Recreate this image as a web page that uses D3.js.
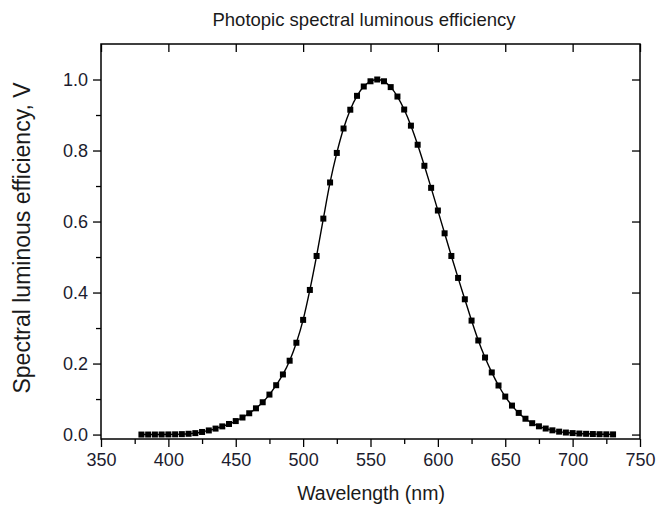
<!DOCTYPE html>
<html>
<head>
<meta charset="utf-8">
<script src="https://cdn.jsdelivr.net/npm/d3@7"></script>
<style>
  body { margin: 0; background: #fff; }
  text { font-family: "Liberation Sans", Arial, sans-serif; fill: #1a1a1a; }
</style>
</head>
<body>
<div id="chart"></div>
<script>
// photopic V(lambda) values (5 nm steps)
var wavelengths = [380, 385, 390, 395, 400, 405, 410, 415, 420, 425, 430, 435, 440, 445, 450,
  455, 460, 465, 470, 475, 480, 485, 490, 495, 500, 505, 510, 515, 520, 525, 530, 535, 540,
  545, 550, 555, 560, 565, 570, 575, 580, 585, 590, 595, 600, 605, 610, 615, 620, 625, 630,
  635, 640, 645, 650, 655, 660, 665, 670, 675, 680, 685, 690, 695, 700, 705, 710, 715, 720,
  725, 730];
var efficiency = [0.00004, 0.00006, 0.00012, 0.00022, 0.0004, 0.00064, 0.0012, 0.0022, 0.004,
  0.0073, 0.0116, 0.0168, 0.023, 0.0298, 0.038, 0.048, 0.06, 0.0739, 0.091, 0.1126, 0.139,
  0.1693, 0.208, 0.2586, 0.323, 0.4073, 0.503, 0.6082, 0.71, 0.7932, 0.862, 0.9149, 0.954,
  0.9803, 0.995, 1.0, 0.995, 0.9786, 0.952, 0.9154, 0.87, 0.8163, 0.757, 0.6949, 0.631,
  0.5668, 0.503, 0.4412, 0.381, 0.321, 0.265, 0.217, 0.175, 0.1382, 0.107, 0.0816, 0.061,
  0.0446, 0.032, 0.0232, 0.017, 0.0119, 0.0082, 0.0057, 0.0041, 0.0029, 0.0021, 0.0015,
  0.001, 0.0007, 0.0005];
var xTicks = [350, 400, 450, 500, 550, 600, 650, 700, 750];
var xMinorTicks = [375, 425, 475, 525, 575, 625, 675, 725];
var yTicks = [0.0, 0.2, 0.4, 0.6, 0.8, 1.0];
var yMinorTicks = [0.1, 0.3, 0.5, 0.7, 0.9];

var data = wavelengths.map(function(w, i) { return { w: w, v: efficiency[i] }; });

var svgWidth = 659;
var svgHeight = 505;
var margin = { top: 44, right: 19, bottom: 66, left: 101 };
var width = svgWidth - margin.left - margin.right;
var height = svgHeight - margin.top - margin.bottom;

var svg = d3.select("#chart")
  .append("svg")
  .attr("width", svgWidth)
  .attr("height", svgHeight);

var chartGroup = svg.append("g")
  .attr("transform", `translate(${margin.left}, ${margin.top})`);

var xScale = d3.scaleLinear().domain([350, 750]).range([0, width]);
var yScale = d3.scaleLinear().domain([-0.0125, 1.1]).range([height, 0]);

// bottom axis: major ticks with labels, minor ticks outside
chartGroup.append("g")
  .attr("transform", `translate(0, ${height})`)
  .call(d3.axisBottom(xScale).tickValues(xTicks).tickSize(8).tickPadding(6).tickFormat(d3.format("d")));
chartGroup.append("g")
  .attr("transform", `translate(0, ${height})`)
  .call(d3.axisBottom(xScale).tickValues(xMinorTicks).tickSize(5).tickFormat(""));

// left axis
chartGroup.append("g")
  .call(d3.axisLeft(yScale).tickValues(yTicks).tickSize(8).tickPadding(5).tickFormat(d3.format(".1f")));
chartGroup.append("g")
  .call(d3.axisLeft(yScale).tickValues(yMinorTicks).tickSize(5).tickFormat(""));

// top and right axes, ticks pointing inward
chartGroup.append("g")
  .call(d3.axisBottom(xScale).tickValues(xTicks).tickSize(8).tickFormat(""));
chartGroup.append("g")
  .attr("transform", `translate(${width}, 0)`)
  .call(d3.axisLeft(yScale).tickValues(yTicks).tickSize(8).tickFormat(""));

// frame
chartGroup.append("rect")
  .attr("width", width)
  .attr("height", height)
  .attr("fill", "none")
  .attr("stroke", "#000")
  .attr("stroke-width", 1.5);

chartGroup.selectAll(".domain").remove();
chartGroup.selectAll(".tick line").attr("stroke", "#000").attr("stroke-width", 1.3);
chartGroup.selectAll(".tick text")
  .style("font-size", "18px")
  .style("fill", "#1c1c2e");

// curve
var line = d3.line()
  .x(d => xScale(d.w))
  .y(d => yScale(d.v))
  .curve(d3.curveMonotoneX);

chartGroup.append("path")
  .datum(data)
  .attr("d", line)
  .attr("fill", "none")
  .attr("stroke", "#000")
  .attr("stroke-width", 1.4);

// square markers
chartGroup.selectAll(".point")
  .data(data)
  .enter()
  .append("rect")
  .attr("class", "point")
  .attr("x", d => xScale(d.w) - 3)
  .attr("y", d => yScale(d.v) - 3)
  .attr("width", 6)
  .attr("height", 6)
  .attr("fill", "#000");

// title and axis labels
svg.append("text")
  .attr("x", 364)
  .attr("y", 26)
  .style("text-anchor", "middle")
  .style("font-size", "18.5px")
  .text("Photopic spectral luminous efficiency");

svg.append("text")
  .attr("x", 371)
  .attr("y", 500)
  .style("text-anchor", "middle")
  .style("font-size", "19.5px")
  .text("Wavelength (nm)");

svg.append("text")
  .attr("transform", "rotate(-90)")
  .attr("x", -238)
  .attr("y", 30)
  .style("text-anchor", "middle")
  .style("font-size", "23px")
  .text("Spectral luminous efficiency, V");
</script>
</body>
</html>
